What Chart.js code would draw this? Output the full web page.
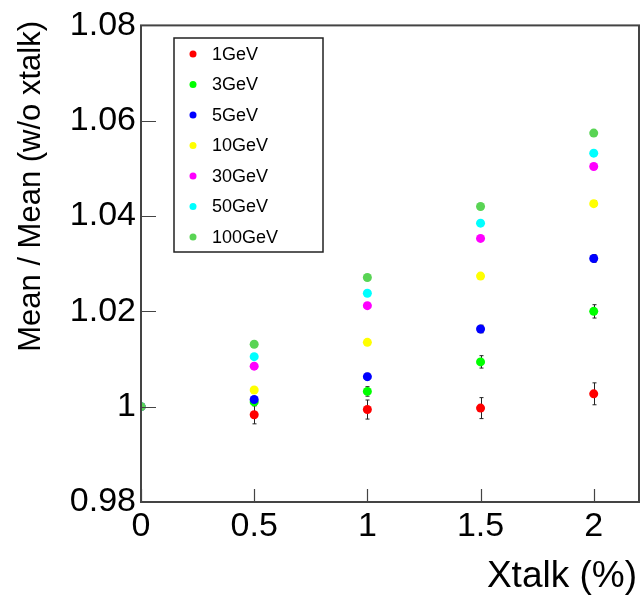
<!DOCTYPE html>
<html>
<head>
<meta charset="utf-8">
<script src="https://cdn.jsdelivr.net/npm/chart.js@4"></script>
<style>
  html, body { margin: 0; padding: 0; background: #fff; }
  #wrap { width: 640px; height: 598px; }
</style>
</head>
<body>
<div id="wrap"><canvas id="xtalkChart" width="640" height="598"></canvas></div>
<script>
const xtalk = [0, 0.5, 1, 1.5, 2];
const energies = ["1GeV", "3GeV", "5GeV", "10GeV", "30GeV", "50GeV", "100GeV"];
const colors = ["#ff0000", "#00ff00", "#0000ff", "#ffff00", "#ff00ff", "#00ffff", "#59d454"];

const ratio1 = [1, 0.9983, 0.9994, 0.9997, 1.0027];
const ratio3 = [1, 1.0010, 1.0032, 1.0094, 1.0200];
const ratio5 = [1, 1.0015, 1.0063, 1.0163, 1.0311];
const ratio10 = [1, 1.0035, 1.0135, 1.0274, 1.0426];
const ratio30 = [1, 1.0085, 1.0212, 1.0353, 1.0504];
const ratio50 = [1, 1.0105, 1.0238, 1.0385, 1.0532];
const ratio100 = [1, 1.0131, 1.0271, 1.0420, 1.0574];

const err1 = [0, 0.0019, 0.0020, 0.0022, 0.0023];
const err3 = [0, 0.0008, 0.0010, 0.0013, 0.0014];
const err5 = [0, 0.0006, 0.0007, 0.0008, 0.0008];
const err10 = [0, 0.0004, 0.0005, 0.0005, 0.0006];
const err30 = [0, 0.0003, 0.0003, 0.0004, 0.0004];
const err50 = [0, 0.0003, 0.0003, 0.0003, 0.0003];
const err100 = [0, 0.0002, 0.0002, 0.0003, 0.0003];

const xTicks = [0, 0.5, 1, 1.5, 2];
const yTicks = [0.98, 1, 1.02, 1.04, 1.06, 1.08];

const allRatios = [ratio1, ratio3, ratio5, ratio10, ratio30, ratio50, ratio100];
const allErrors = [err1, err3, err5, err10, err30, err50, err100];

const FONT = "'Liberation Sans', Arial, Helvetica, sans-serif";

const datasets = energies.map((name, i) => ({
  label: name,
  data: xtalk.map((x, j) => ({ x: x, y: allRatios[i][j] })),
  errors: allErrors[i],
  backgroundColor: colors[i],
  borderColor: colors[i],
  borderWidth: 0,
  pointRadius: 4.5,
  order: energies.length - i
}));

// error bars, frame, inward ticks, titles and legend in ROOT style
const rootStyle = {
  id: "rootStyle",
  beforeDatasetsDraw(chart) {
    const ctx = chart.ctx;
    const xs = chart.scales.x, ys = chart.scales.y;
    ctx.save();
    ctx.strokeStyle = "#222";
    ctx.lineWidth = 1;
    chart.data.datasets.forEach(ds => {
      ds.data.forEach((p, j) => {
        const e = ds.errors[j];
        if (!e) return;
        const px = Math.round(xs.getPixelForValue(p.x)) + 0.5;
        const top = ys.getPixelForValue(p.y + e);
        const bot = ys.getPixelForValue(p.y - e);
        ctx.beginPath();
        ctx.moveTo(px, top); ctx.lineTo(px, bot);
        ctx.moveTo(px - 2, top); ctx.lineTo(px + 2, top);
        ctx.moveTo(px - 2, bot); ctx.lineTo(px + 2, bot);
        ctx.stroke();
      });
    });
    ctx.restore();
  },
  afterDraw(chart) {
    const ctx = chart.ctx;
    const a = chart.chartArea;
    const xs = chart.scales.x, ys = chart.scales.y;
    ctx.save();
    ctx.strokeStyle = "#444";
    ctx.lineWidth = 2;
    ctx.strokeRect(a.left, a.top, a.right - a.left, a.bottom - a.top);

    ctx.lineWidth = 1.2;
    ctx.beginPath();
    xTicks.forEach(v => {
      const px = Math.round(xs.getPixelForValue(v)) + 0.5;
      ctx.moveTo(px, a.bottom); ctx.lineTo(px, a.bottom - 13);
    });
    yTicks.forEach(v => {
      const py = Math.round(ys.getPixelForValue(v)) + 0.5;
      ctx.moveTo(a.left, py); ctx.lineTo(a.left + 15, py);
    });
    ctx.stroke();

    // axis titles
    ctx.fillStyle = "#000";
    ctx.font = "37px " + FONT;
    ctx.textAlign = "right";
    ctx.textBaseline = "middle";
    ctx.fillText("Xtalk (%)", 637, 577);
    ctx.save();
    ctx.translate(31, 21);
    ctx.rotate(-Math.PI / 2);
    ctx.font = "31px " + FONT;
    ctx.textAlign = "right";
    ctx.fillText("Mean / Mean (w/o xtalk)", 0, 0);
    ctx.restore();

    // legend
    ctx.fillStyle = "#fff";
    ctx.fillRect(174, 38, 149, 214);
    ctx.strokeStyle = "#222";
    ctx.lineWidth = 1.5;
    ctx.strokeRect(174, 38, 149, 214);
    ctx.font = "18px " + FONT;
    ctx.textAlign = "left";
    ctx.textBaseline = "middle";
    energies.forEach((name, i) => {
      const ly = 54 + i * 30.5;
      ctx.fillStyle = colors[i];
      ctx.beginPath();
      ctx.arc(193, ly, 3.5, 0, Math.PI * 2);
      ctx.fill();
      ctx.fillStyle = "#000";
      ctx.fillText(name, 212, ly + 1);
    });
    ctx.restore();
  }
};

new Chart(document.getElementById("xtalkChart"), {
  type: "scatter",
  data: { datasets: datasets },
  options: {
    responsive: false,
    animation: false,
    layout: { autoPadding: false, padding: { top: 24, right: 1, left: 0, bottom: 0 } },
    plugins: { legend: { display: false }, tooltip: { enabled: false } },
    scales: {
      x: {
        type: "linear",
        min: 0,
        max: 2.2,
        grid: { display: false, drawTicks: false },
        border: { display: false },
        afterBuildTicks: s => { s.ticks = xTicks.map(v => ({ value: v })); },
        afterFit: s => { s.height = 96; },
        ticks: {
          color: "#000",
          padding: 4,
          maxRotation: 0,
          font: { family: FONT, size: 34 },
          callback: v => String(v)
        }
      },
      y: {
        type: "linear",
        min: 0.98,
        max: 1.08,
        grid: { display: false, drawTicks: false },
        border: { display: false },
        afterBuildTicks: s => { s.ticks = yTicks.map(v => ({ value: v })); },
        afterFit: s => { s.width = 141; },
        ticks: {
          color: "#000",
          padding: 5,
          font: { family: FONT, size: 34 },
          callback: v => String(Number(v.toFixed(2)))
        }
      }
    }
  },
  plugins: [rootStyle]
});
</script>
</body>
</html>
